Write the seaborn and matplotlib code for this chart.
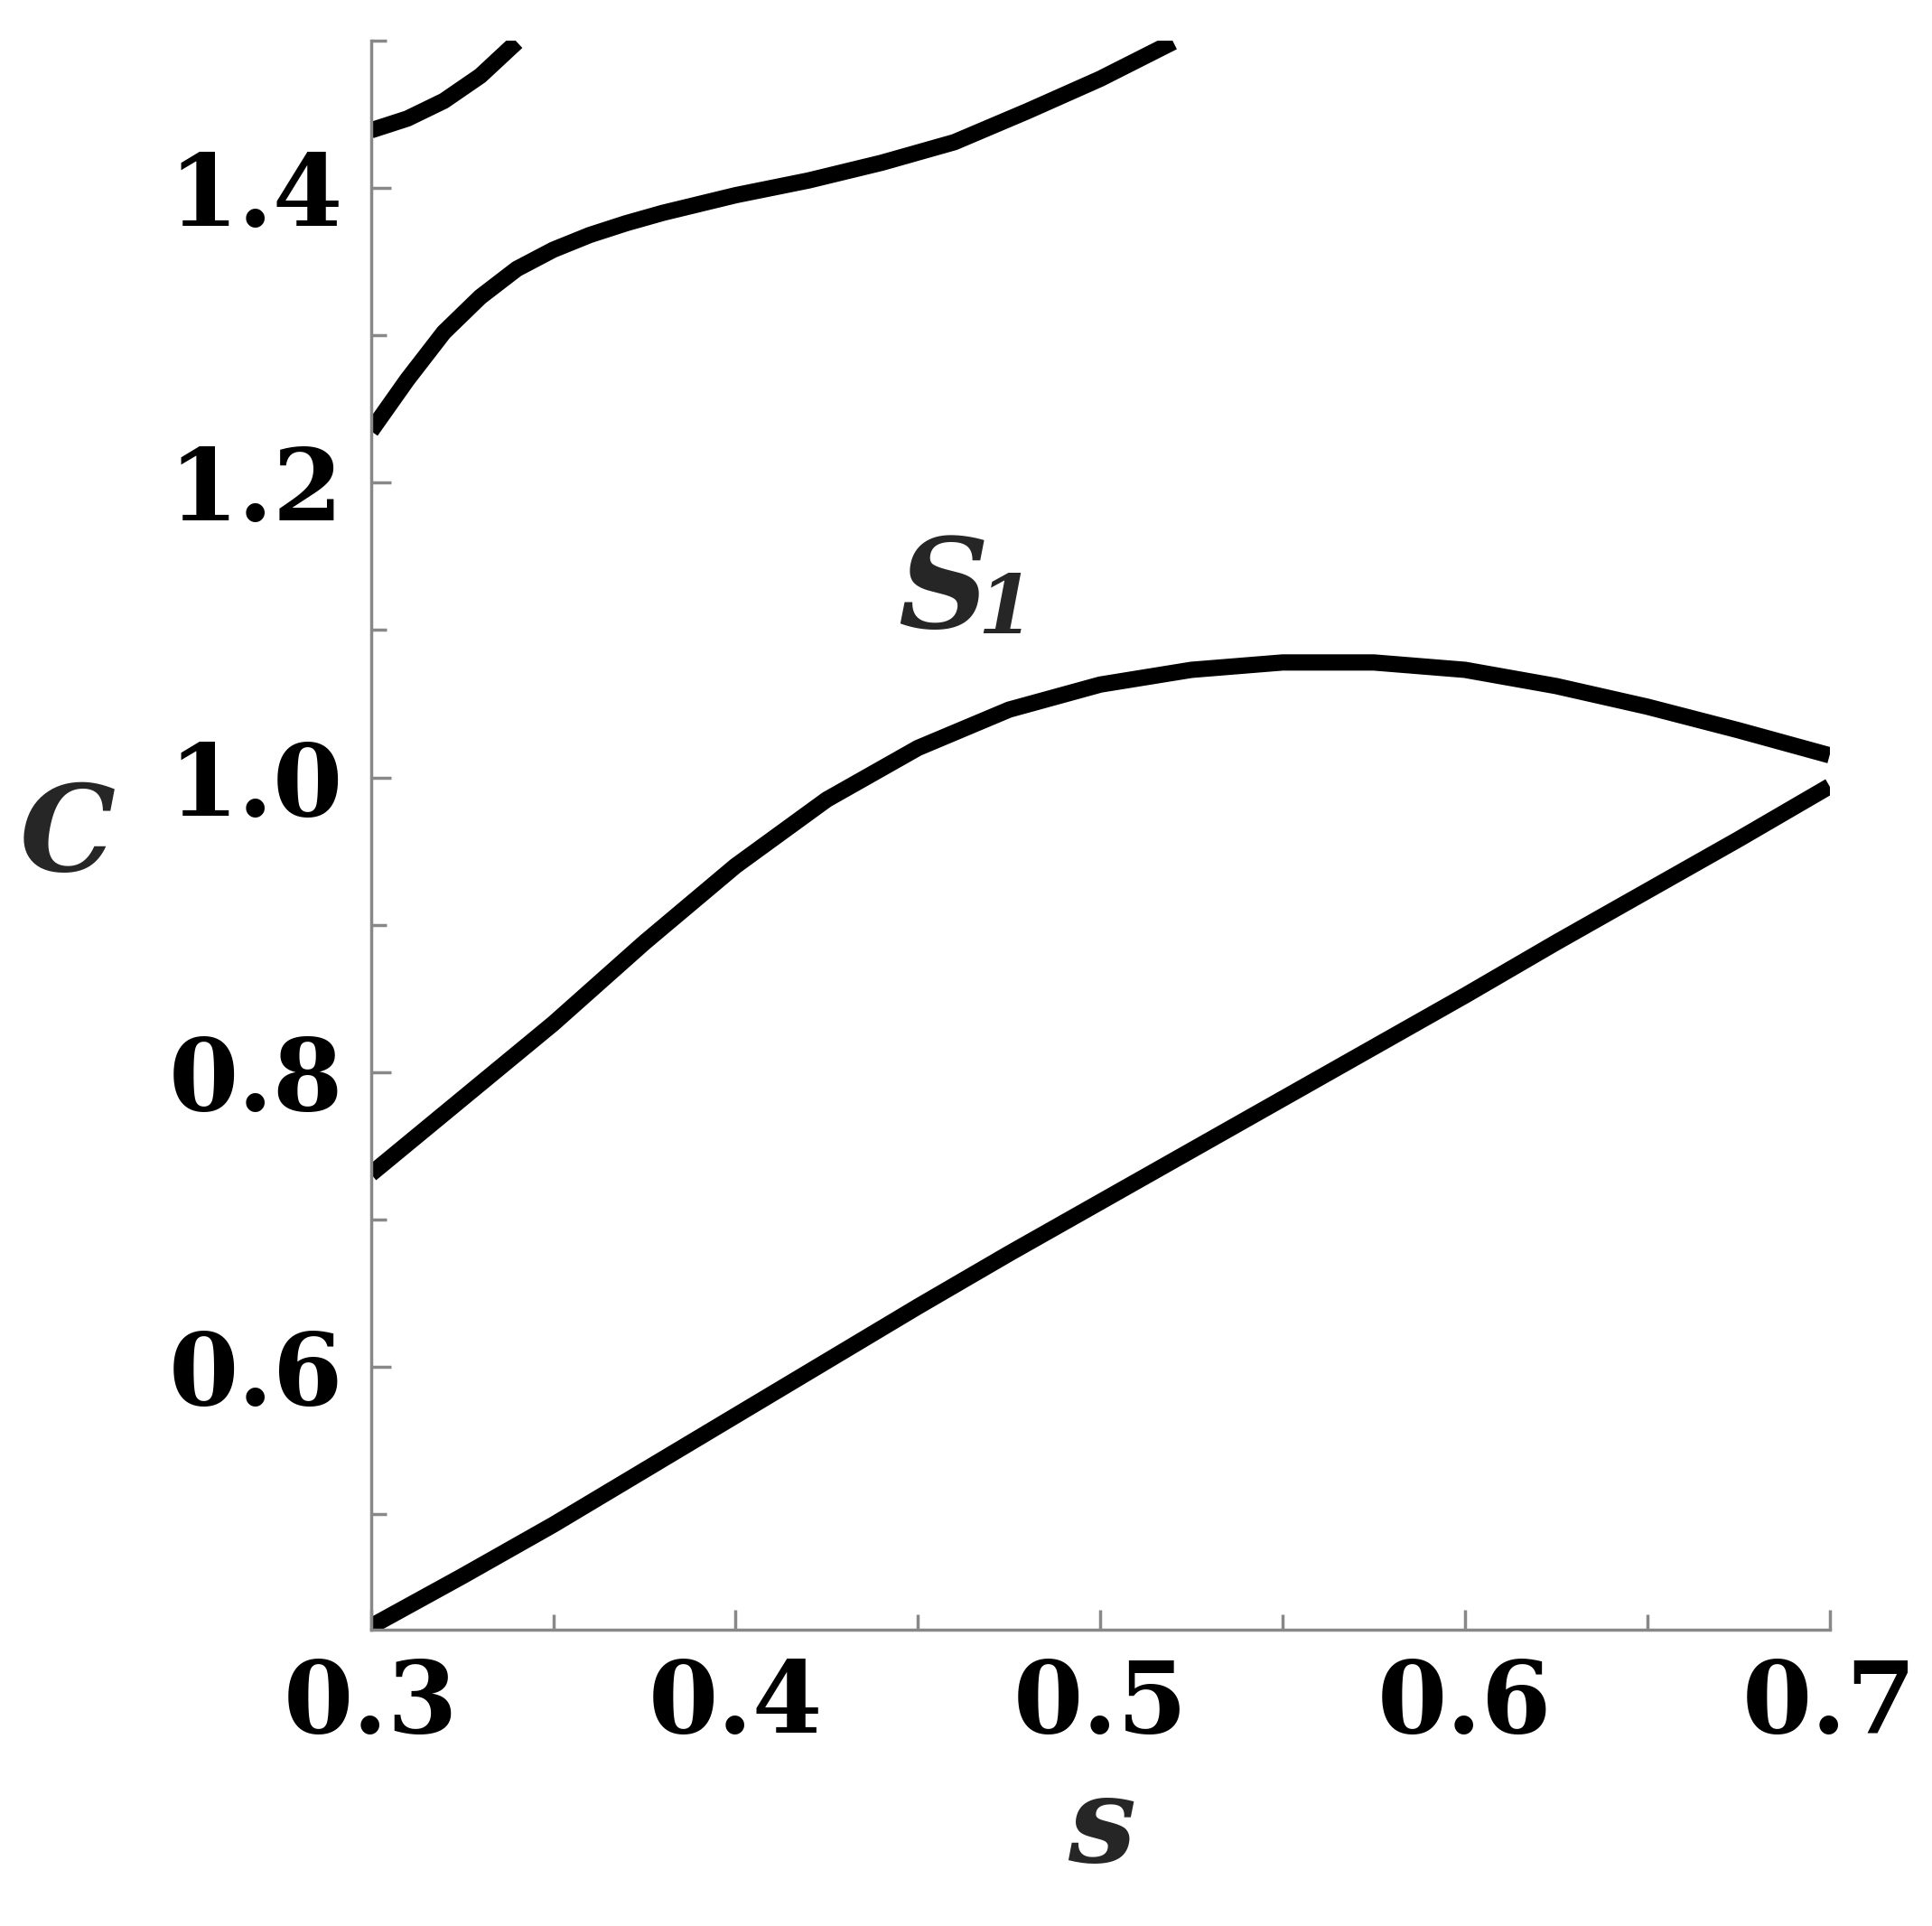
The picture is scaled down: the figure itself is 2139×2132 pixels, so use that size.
import matplotlib
matplotlib.use("Agg")
import matplotlib.pyplot as plt
import seaborn as sns
import pandas as pd

# lower branch
s_a = [0.300, 0.325, 0.350, 0.375, 0.400, 0.425, 0.450, 0.475, 0.500,
       0.525, 0.550, 0.575, 0.600, 0.625, 0.650, 0.675, 0.700]
c_a = [0.424, 0.458, 0.493, 0.530, 0.567, 0.604, 0.641, 0.677, 0.712,
       0.747, 0.782, 0.817, 0.852, 0.888, 0.923, 0.958, 0.994]
# S1 branch
s_b = [0.300, 0.325, 0.350, 0.375, 0.400, 0.425, 0.450, 0.475, 0.500,
       0.525, 0.550, 0.575, 0.600, 0.625, 0.650, 0.675, 0.700]
c_b = [0.731, 0.782, 0.833, 0.888, 0.940, 0.985, 1.020, 1.046, 1.063,
       1.073, 1.078, 1.078, 1.073, 1.062, 1.048, 1.032, 1.015]
# upper branches
s_c = [0.30, 0.31, 0.32, 0.33, 0.34, 0.35, 0.36, 0.37, 0.38, 0.40,
       0.42, 0.44, 0.46, 0.48, 0.50, 0.52]
c_c = [1.235, 1.270, 1.302, 1.326, 1.345, 1.358, 1.368, 1.376, 1.383, 1.395,
       1.405, 1.417, 1.431, 1.452, 1.474, 1.499]
s_d = [0.30, 0.31, 0.32, 0.33, 0.34]
c_d = [1.439, 1.447, 1.459, 1.476, 1.499]

sns.set_style("white")
plt.rcParams["font.family"] = ["DejaVu Serif"]

fig = plt.figure(figsize=(21.39, 21.32), dpi=100)
ax = fig.add_axes([0.192, 0.154, 0.755, 0.825])

for s, c in [(s_a, c_a), (s_b, c_b), (s_c, c_c), (s_d, c_d)]:
    df = pd.DataFrame({"s": s, "C": c})
    sns.lineplot(data=df, x="s", y="C", ax=ax, color="black", linewidth=13,
                 solid_capstyle="butt", solid_joinstyle="round")

ax.set_xlim(0.3, 0.7)
ax.set_ylim(0.422, 1.50)
ax.set_xticks([0.3, 0.4, 0.5, 0.6, 0.7])
ax.set_xticks([0.35, 0.45, 0.55, 0.65], minor=True)
ax.set_yticks([0.6, 0.8, 1.0, 1.2, 1.4])
ax.set_yticks([0.5, 0.7, 0.9, 1.1, 1.3, 1.5], minor=True)
ax.set_xticklabels(["0.3", "0.4", "0.5", "0.6", "0.7"])
ax.set_yticklabels(["0.6", "0.8", "1.0", "1.2", "1.4"])
ax.set_xlabel("")
ax.set_ylabel("")
ax.tick_params(which="both", direction="in", color="#888888", width=2.5,
               bottom=True, left=True, labelsize=80, labelcolor="black", pad=22)
ax.tick_params(which="major", length=16)
ax.tick_params(which="minor", length=12)
for lab in ax.get_xticklabels() + ax.get_yticklabels():
    lab.set_fontweight("bold")
for side in ["top", "right"]:
    ax.spines[side].set_visible(False)
for side in ["left", "bottom"]:
    ax.spines[side].set_color("#888888")
    ax.spines[side].set_linewidth(2.5)

fig.text(0.57, 0.02, "s", fontsize=96, fontweight="bold", style="italic",
         ha="center", va="bottom")
fig.text(0.035, 0.565, "C", fontsize=96, fontweight="bold", style="italic",
         ha="center", va="center")
ax.text(0.457, 1.125, "S", fontsize=100, fontweight="bold", style="italic",
        ha="center", va="center")
ax.text(0.474, 1.113, "1", fontsize=64, fontweight="bold", style="italic",
        ha="center", va="center")

fig.savefig("out.png", dpi=100)
